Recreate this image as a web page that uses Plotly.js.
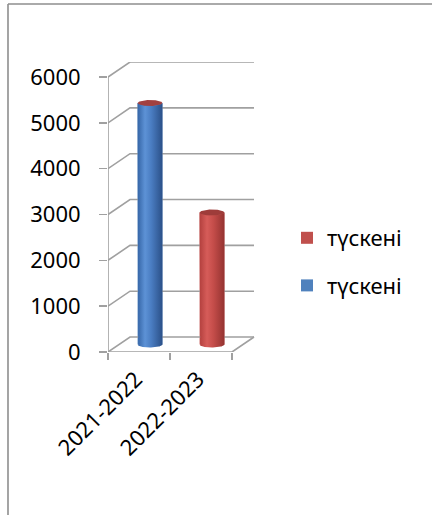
<!DOCTYPE html>
<html>
<head>
<meta charset="utf-8">
<script src="https://cdn.plot.ly/plotly-3.0.1.min.js"></script>
<style>html,body{margin:0;padding:0;background:#fff;}#chart{width:432px;height:515px;}</style>
</head>
<body>
<div id="chart"></div>
<script>
// ---- data ----
var categories = ['2021-2022', '2022-2023'];
var seriesNames = ['түскені', 'түскені'];
var values = [5270, 2880];
var yTicks = [0, 1000, 2000, 3000, 4000, 5000, 6000];
var yTickLabels = ['0', '1000', '2000', '3000', '4000', '5000', '6000'];

// ---- style ----
var FONT = 'Noto Sans, Open Sans, DejaVu Sans, sans-serif';
var bodyScales = [
  [[0, '#3565a6'], [0.3, '#5d92d6'], [0.55, '#4a7dc2'], [1, '#2b5088']],
  [[0, '#b3403e'], [0.3, '#d65c59'], [0.55, '#c54d4a'], [1, '#943331']]
];
var solid = ['#4f81bd', '#c0504d'];
var topColor = ['#a2403f', '#9e3c3a'];
var gridColor = '#a0a0a0';
var legendRanks = [2, 1];

// geometry of the 3-D box (axis units)
var DX = 0.355;      // depth offset along x (categories)
var DY = 327;        // depth offset along y (values)
var R = 0.2;         // cylinder radius (x units)
var B = 65;          // ellipse half-height (y units)
var base = DY / 2;

var traces = [];

// bars (data + legend) – covered by shaded cylinders
values.forEach(function (v, i) {
  traces.push({
    type: 'bar', x: [i + DX / 2], y: [v], base: [base], width: [2 * R],
    name: seriesNames[i], legendgroup: 'g' + i, legendrank: legendRanks[i],
    marker: { color: solid[i], line: { width: 0 } }
  });
});

// back wall grid lines + floor
var gx = [], gy = [];
yTicks.forEach(function (t) {
  gx.push(-0.5, -0.5 + DX, (categories.length - 0.5) + DX, null);
  gy.push(t, t + DY, t + DY, null);
});
gx.push(-0.5, categories.length - 0.5, categories.length - 0.5 + DX, null);
gy.push(0, 0, DY, null);
gx.push(-0.5, -0.5);
gy.push(0, yTicks[yTicks.length - 1]);
traces.push({
  type: 'scatter', mode: 'lines', x: gx, y: gy, showlegend: false,
  line: { color: gridColor, width: 1.6 }, cliponaxis: false, hoverinfo: 'skip'
});

// cylinders
var N = 40;
values.forEach(function (v, i) {
  var cx = i + DX / 2;
  var top = base + v;
  var bx = [], by = [];
  bx.push(cx - R); by.push(top);
  for (var k = 0; k <= N; k++) {
    var th = Math.PI + Math.PI * k / N;
    bx.push(cx + R * Math.cos(th)); by.push(base + B * Math.sin(th));
  }
  for (var k2 = 0; k2 <= N; k2++) {
    var th2 = 2 * Math.PI - Math.PI * k2 / N;
    bx.push(cx + R * Math.cos(th2)); by.push(top + B * Math.sin(th2));
  }
  traces.push({
    type: 'scatter', mode: 'lines', x: bx, y: by, fill: 'toself',
    fillgradient: { type: 'horizontal', colorscale: bodyScales[i] },
    line: { width: 0 }, showlegend: false, hoverinfo: 'skip', cliponaxis: false
  });
  var tx = [], ty = [];
  for (var k3 = 0; k3 <= 2 * N; k3++) {
    var th3 = Math.PI * k3 / N;
    tx.push(cx + R * Math.cos(th3)); ty.push(top + B * Math.sin(th3));
  }
  traces.push({
    type: 'scatter', mode: 'lines', x: tx, y: ty, fill: 'toself',
    fillcolor: topColor[i], line: { width: 0 },
    showlegend: false, hoverinfo: 'skip', cliponaxis: false
  });
});

// dummy trace for category labels on xaxis2
traces.push({
  type: 'scatter', mode: 'markers', x: [0, 1], y: [0, 0], xaxis: 'x2',
  marker: { opacity: 0 }, showlegend: false, hoverinfo: 'skip'
});

var W = 432, H = 515;
function px(x) { return x / W; }
function py(y) { return (H - y) / H; }

var xRange = [-0.5, -0.5 + 147 / 62];
var layout = {
  width: W, height: H,
  margin: { l: 0, r: 0, t: 0, b: 0 },
  paper_bgcolor: '#ffffff', plot_bgcolor: 'rgba(0,0,0,0)',
  hovermode: false,
  font: { family: FONT, size: 22, color: '#000000' },
  barmode: 'overlay',
  xaxis: {
    domain: [px(108), px(255)], range: xRange, showgrid: false, zeroline: false,
    showline: false, tickvals: [], ticks: '', showticklabels: false,
    minor: { tickmode: 'array', tickvals: [-0.5, 0.5, 1.5], ticks: 'outside', ticklen: 7, tickcolor: gridColor, tickwidth: 1.6, showgrid: false }
  },
  xaxis2: {
    overlaying: 'x', anchor: 'y', side: 'bottom', domain: [px(108), px(255)], range: xRange,
    showgrid: false, zeroline: false, showline: false,
    tickmode: 'array', tickvals: [0, 1], ticktext: categories, ticks: '',
    tickangle: -45, ticklabelstandoff: 9, ticklabelshift: -3,
    tickfont: { family: FONT, size: 22, color: '#000' }
  },
  yaxis: {
    domain: [py(352), py(62)], range: [0, 290 / 45.83 * 1000],
    showgrid: false, zeroline: false, showline: false,
    tickmode: 'array', tickvals: yTicks, ticktext: yTickLabels,
    ticks: 'outside', ticklen: 8, tickcolor: gridColor, tickwidth: 1.6,
    ticklabelstandoff: 14, tickfont: { family: FONT, size: 22, color: '#000' }
  },
  legend: {
    x: px(287), xanchor: 'left', y: py(217), yanchor: 'top',
    traceorder: 'grouped', tracegroupgap: 16,
    font: { family: FONT, size: 22, color: '#000' }, bgcolor: 'rgba(0,0,0,0)'
  },
  shapes: [
    { type: 'line', xref: 'paper', yref: 'paper', x0: px(8), x1: 1, y0: py(4), y1: py(4), line: { color: '#8e8e8e', width: 1.6 } },
    { type: 'line', xref: 'paper', yref: 'paper', x0: px(8), x1: px(8), y0: 0, y1: py(4), line: { color: '#8e8e8e', width: 1.6 } }
  ]
};

Plotly.newPlot('chart', traces, layout, { displayModeBar: false, staticPlot: true });
</script>
</body>
</html>
